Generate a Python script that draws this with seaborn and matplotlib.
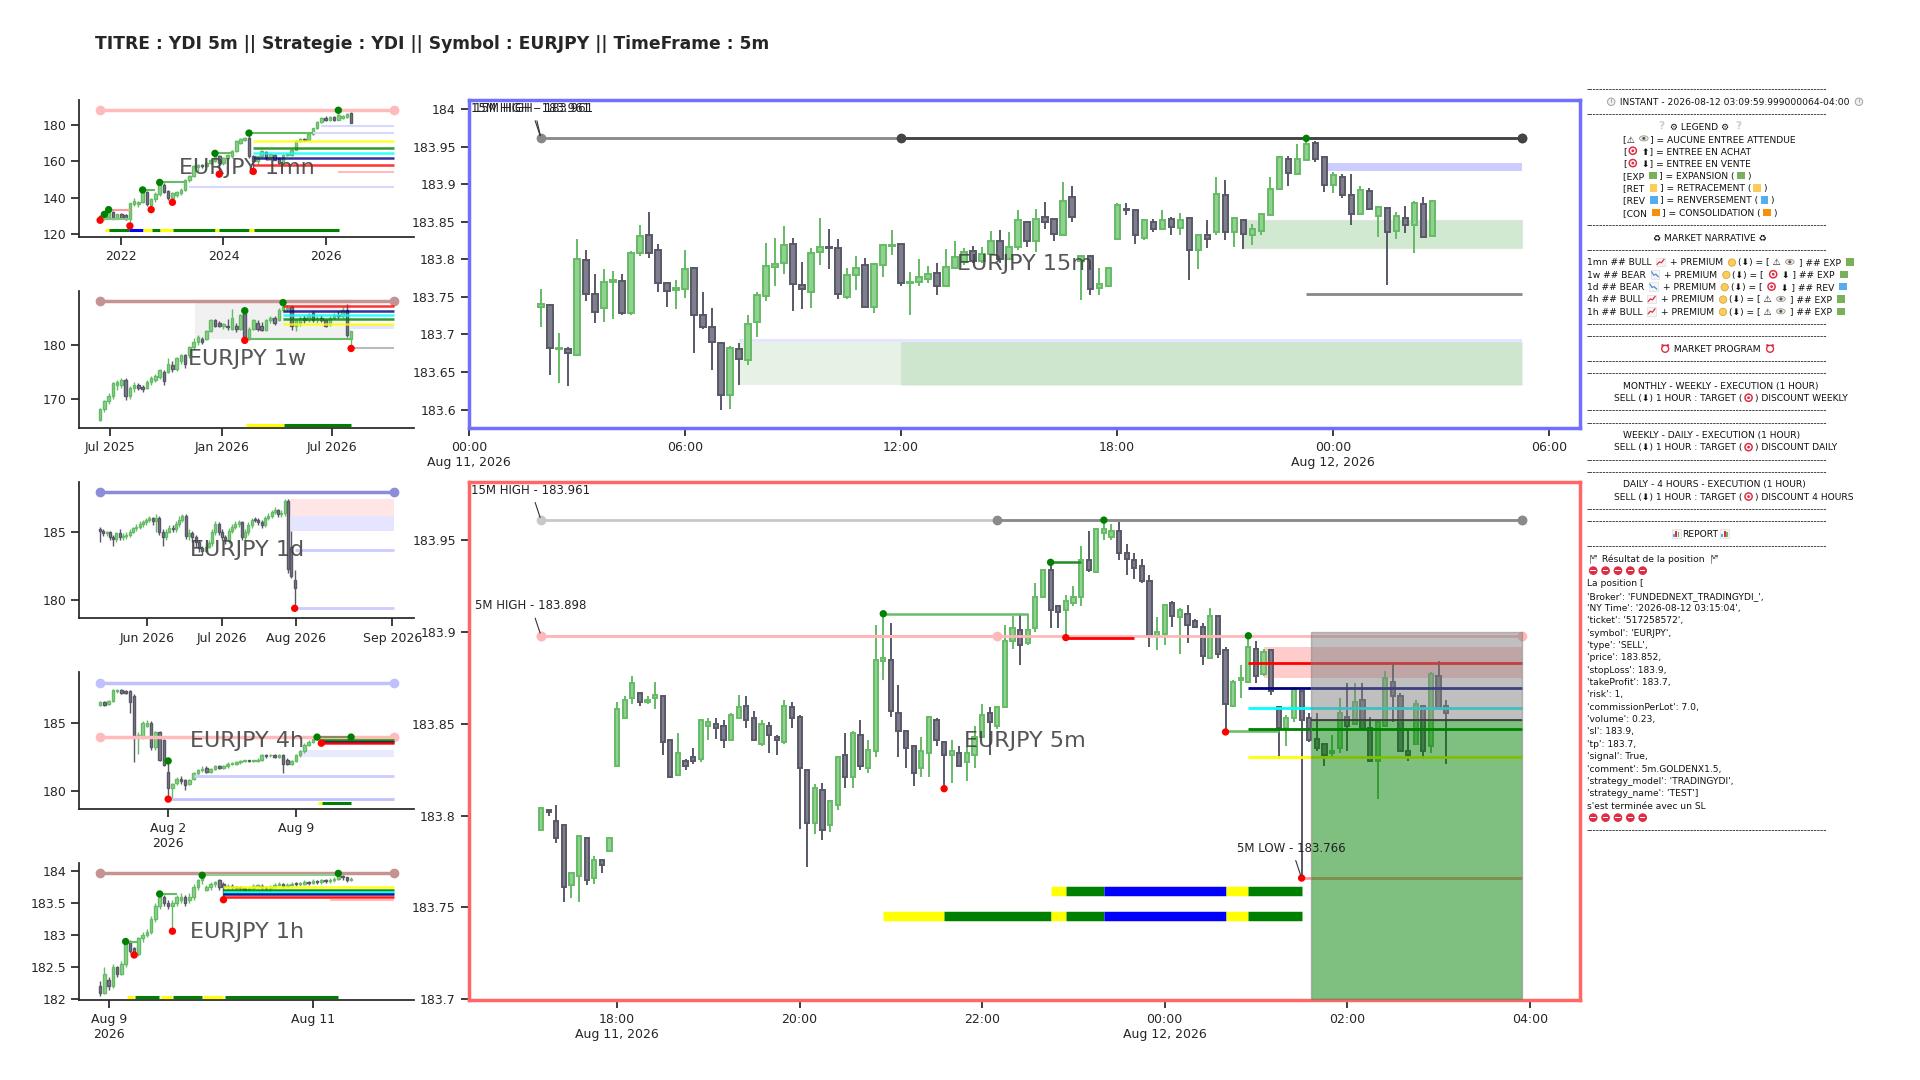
import numpy as np
import matplotlib
matplotlib.use("Agg")
import matplotlib.pyplot as plt
from matplotlib.ticker import FuncFormatter, MultipleLocator
from matplotlib.patches import Rectangle, Circle, Ellipse
import seaborn as sns

# ---------------- data ----------------
title = "TITRE : YDI 5m || Strategie : YDI || Symbol : EURJPY || TimeFrame : 5m"

# 15m candles, first one at 2026-08-11 02:00
m15_open = [183.736, 183.739, 183.680, 183.681, 183.673, 183.799, 183.754, 183.735, 183.770, 183.771,
            183.728, 183.809, 183.833, 183.812, 183.769, 183.759, 183.760, 183.788, 183.726, 183.710,
            183.688, 183.620, 183.680, 183.666, 183.716, 183.751, 183.790, 183.795, 183.820, 183.766,
            183.757, 183.810, 183.816, 183.815, 183.750, 183.779, 183.792, 183.736, 183.792, 183.818,
            183.820, 183.768, 183.770, 183.774, 183.782, 183.764, 183.789, 183.796, 183.811, 183.798,
            183.807, 183.825, 183.801, 183.817, 183.849, 183.824, 183.856, 183.853, 183.832, 183.883,
            183.798, 183.804, 183.762, 183.764, 183.827, 183.867, 183.865, 183.828, 183.849, 183.841,
            183.853, 183.842, 183.855, 183.813, 183.833, 183.837, 183.886, 183.837, 183.852, 183.833,
            183.838, 183.859, 183.893, 183.933, 183.914, 183.932, 183.955, 183.936, 183.899, 183.910,
            183.886, 183.860, 183.891, 183.858, 183.868, 183.838, 183.855, 183.846, 183.873, 183.831]
m15_high = [183.760, 183.739, 183.702, 183.683, 183.827, 183.813, 183.780, 183.787, 183.784, 183.781,
            183.811, 183.846, 183.863, 183.820, 183.770, 183.773, 183.813, 183.790, 183.757, 183.735,
            183.690, 183.684, 183.688, 183.726, 183.757, 183.822, 183.828, 183.844, 183.828, 183.797,
            183.815, 183.855, 183.841, 183.827, 183.789, 183.804, 183.802, 183.795, 183.821, 183.839,
            183.820, 183.783, 183.801, 183.791, 183.795, 183.814, 183.824, 183.815, 183.818, 183.817,
            183.838, 183.839, 183.836, 183.866, 183.851, 183.867, 183.876, 183.854, 183.903, 183.898,
            183.805, 183.806, 183.789, 183.790, 183.875, 183.875, 183.865, 183.853, 183.854, 183.866,
            183.856, 183.862, 183.855, 183.832, 183.852, 183.910, 183.905, 183.855, 183.853, 183.847,
            183.861, 183.910, 183.938, 183.937, 183.954, 183.961, 183.958, 183.938, 183.916, 183.914,
            183.913, 183.898, 183.895, 183.870, 183.868, 183.863, 183.871, 183.878, 183.883, 183.877]
m15_low = [183.710, 183.646, 183.635, 183.632, 183.672, 183.744, 183.715, 183.717, 183.721, 183.726,
           183.726, 183.804, 183.802, 183.757, 183.736, 183.734, 183.748, 183.675, 183.707, 183.653,
           183.600, 183.601, 183.633, 183.660, 183.696, 183.744, 183.765, 183.781, 183.731, 183.734,
           183.735, 183.793, 183.787, 183.747, 183.747, 183.759, 183.737, 183.728, 183.777, 183.806,
           183.765, 183.726, 183.765, 183.768, 183.753, 183.763, 183.788, 183.793, 183.795, 183.795,
           183.806, 183.795, 183.799, 183.812, 183.817, 183.810, 183.840, 183.825, 183.832, 183.850,
           183.746, 183.753, 183.753, 183.763, 183.827, 183.859, 183.821, 183.826, 183.837, 183.840,
           183.833, 183.833, 183.772, 183.787, 183.815, 183.832, 183.826, 183.816, 183.814, 183.819,
           183.833, 183.859, 183.892, 183.898, 183.912, 183.932, 183.930, 183.890, 183.888, 183.882,
           183.846, 183.860, 183.866, 183.830, 183.766, 183.827, 183.835, 183.809, 183.830, 183.830]
m15_close = [183.740, 183.682, 183.681, 183.675, 183.800, 183.754, 183.730, 183.770, 183.772, 183.729,
             183.809, 183.831, 183.809, 183.769, 183.758, 183.762, 183.787, 183.726, 183.710, 183.690,
             183.620, 183.682, 183.667, 183.714, 183.753, 183.791, 183.794, 183.819, 183.767, 183.760,
             183.809, 183.817, 183.815, 183.754, 183.779, 183.789, 183.737, 183.794, 183.819, 183.8195,
             183.768, 183.770, 183.777, 183.781, 183.765, 183.790, 183.803, 183.810, 183.798, 183.807,
             183.824, 183.801, 183.817, 183.852, 183.825, 183.853, 183.850, 183.834, 183.878, 183.856,
             183.804, 183.761, 183.767, 183.788, 183.872, 183.866, 183.833, 183.852, 183.840, 183.852,
             183.843, 183.852, 183.813, 183.832, 183.827, 183.887, 183.836, 183.855, 183.834, 183.841,
             183.860, 183.893, 183.936, 183.915, 183.934, 183.954, 183.934, 183.899, 183.912, 183.885,
             183.860, 183.892, 183.867, 183.869, 183.837, 183.857, 183.846, 183.875, 183.830, 183.877]

# 5m candles, first one at 2026-08-11 17:10
m5_open = [183.792, 183.803, 183.797, 183.795, 183.762, 183.767, 183.788, 183.766, 183.776, 183.781,
           183.827, 183.853, 183.864, 183.867, 183.862, 183.864, 183.865, 183.841, 183.822, 183.830,
           183.832, 183.831, 183.849, 183.850, 183.849, 183.841, 183.853, 183.860, 183.853, 183.839,
           183.849, 183.843, 183.840, 183.859, 183.854, 183.825, 183.796, 183.814, 183.795, 183.806,
           183.833, 183.821, 183.844, 183.826, 183.835, 183.884, 183.885, 183.856, 183.846, 183.838,
           183.826, 183.834, 183.852, 183.840, 183.833, 183.834, 183.829, 183.833, 183.843, 183.856,
           183.849, 183.859, 183.895, 183.901, 183.894, 183.902, 183.919, 183.934, 183.914, 183.912,
           183.916, 183.919, 183.939, 183.933, 183.954, 183.952, 183.955, 183.943, 183.939, 183.936,
           183.928, 183.898, 183.899, 183.916, 183.908, 183.910, 183.906, 183.903, 183.886, 183.909,
           183.890, 183.860, 183.874, 183.873, 183.891, 183.877, 183.890, 183.859, 183.848, 183.853,
           183.868, 183.853, 183.842, 183.839, 183.834, 183.837, 183.854, 183.850, 183.863, 183.848,
           183.830, 183.849, 183.873, 183.865, 183.835, 183.839, 183.860, 183.838, 183.876, 183.860]
m5_high = [183.804, 183.803, 183.806, 183.795, 183.769, 183.789, 183.788, 183.778, 183.776, 183.788,
           183.862, 183.865, 183.876, 183.867, 183.865, 183.873, 183.865, 183.841, 183.845, 183.831,
           183.837, 183.852, 183.853, 183.853, 183.852, 183.856, 183.866, 183.865, 183.857, 183.852,
           183.851, 183.844, 183.863, 183.862, 183.855, 183.825, 183.817, 183.818, 183.808, 183.832,
           183.845, 183.846, 183.852, 183.841, 183.904, 183.910, 183.905, 183.871, 183.846, 183.838,
           183.843, 183.854, 183.853, 183.840, 183.841, 183.838, 183.838, 183.849, 183.861, 183.859,
           183.859, 183.904, 183.909, 183.910, 183.910, 183.927, 183.934, 183.938, 183.914, 183.920,
           183.925, 183.947, 183.955, 183.956, 183.961, 183.959, 183.960, 183.948, 183.943, 183.940,
           183.931, 183.908, 183.915, 183.917, 183.913, 183.915, 183.907, 183.905, 183.913, 183.909,
           183.892, 183.874, 183.882, 183.898, 183.895, 183.891, 183.891, 183.859, 183.855, 183.870,
           183.868, 183.856, 183.856, 183.839, 183.844, 183.864, 183.872, 183.872, 183.872, 183.854,
           183.851, 183.879, 183.883, 183.867, 183.847, 183.863, 183.860, 183.878, 183.884, 183.863]
m5_low = [183.792, 183.800, 183.785, 183.753, 183.755, 183.753, 183.762, 183.763, 183.769, 183.781,
          183.827, 183.853, 183.861, 183.860, 183.861, 183.858, 183.833, 183.821, 183.822, 183.825,
          183.828, 183.829, 183.841, 183.842, 183.837, 183.841, 183.853, 183.848, 183.841, 183.838,
          183.834, 183.833, 183.839, 183.848, 183.793, 183.772, 183.790, 183.787, 183.791, 183.803,
          183.815, 183.815, 183.825, 183.823, 183.832, 183.874, 183.854, 183.832, 183.826, 183.816,
          183.821, 183.821, 183.838, 183.815, 183.818, 183.827, 183.819, 183.826, 183.843, 183.833,
          183.847, 183.859, 183.891, 183.882, 183.893, 183.900, 183.919, 183.902, 183.902, 183.897,
          183.914, 183.914, 183.933, 183.932, 183.950, 183.950, 183.939, 183.931, 183.929, 183.927,
          183.892, 183.890, 183.893, 183.903, 183.888, 183.894, 183.902, 183.882, 183.886, 183.886,
          183.846, 183.859, 183.864, 183.872, 183.872, 183.876, 183.866, 183.831, 183.838, 183.851,
          183.766, 183.840, 183.835, 183.827, 183.832, 183.834, 183.835, 183.850, 183.847, 183.830,
          183.809, 183.849, 183.851, 183.835, 183.830, 183.839, 183.831, 183.834, 183.858, 183.828]
m5_close = [183.804, 183.802, 183.788, 183.761, 183.769, 183.789, 183.765, 183.776, 183.773, 183.788,
            183.858, 183.863, 183.872, 183.862, 183.863, 183.866, 183.840, 183.821, 183.834, 183.827,
            183.830, 183.852, 183.851, 183.848, 183.841, 183.855, 183.859, 183.852, 183.841, 183.850,
            183.844, 183.841, 183.860, 183.853, 183.826, 183.796, 183.815, 183.792, 183.808, 183.832,
            183.821, 183.845, 183.827, 183.836, 183.885, 183.886, 183.857, 183.846, 183.837, 183.823,
            183.835, 183.854, 183.841, 183.833, 183.835, 183.827, 183.834, 183.843, 183.855, 183.851,
            183.859, 183.895, 183.902, 183.893, 183.901, 183.919, 183.934, 183.912, 183.911, 183.917,
            183.919, 183.939, 183.934, 183.956, 183.956, 183.955, 183.943, 183.940, 183.935, 183.928,
            183.898, 183.900, 183.915, 183.909, 183.912, 183.904, 183.903, 183.887, 183.909, 183.888,
            183.861, 183.873, 183.875, 183.892, 183.876, 183.889, 183.868, 183.848, 183.853, 183.869,
            183.852, 183.841, 183.837, 183.833, 183.835, 183.856, 183.849, 183.862, 183.847, 183.830,
            183.851, 183.875, 183.865, 183.835, 183.833, 183.861, 183.835, 183.877, 183.858, 183.856]

# monthly candles, Aug 2021 .. Jul 2026
mn_open = [130.0, 129.0, 129.5, 132.4, 128.7, 131.0, 130.5, 128.5, 136.5, 136.5,
           138.0, 143.5, 136.0, 139.5, 142.0, 147.0, 144.0, 140.0, 141.8, 142.7,
           144.5, 150.0, 152.0, 157.0, 158.2, 157.5, 159.0, 160.0, 162.7, 159.0,
           161.8, 162.7, 165.5, 170.0, 171.8, 172.7, 163.0, 160.0, 162.7, 165.0,
           161.8, 163.6, 161.8, 159.0, 163.6, 163.6, 166.4, 171.0, 172.4, 171.8,
           175.0, 178.2, 181.8, 184.0, 182.7, 184.4, 182.7, 183.6, 184.5, 186.4]
mn_high = [130.5, 131.0, 133.6, 132.8, 131.3, 131.5, 131.0, 137.5, 140.0, 138.5,
           144.4, 144.0, 139.8, 143.0, 148.5, 148.0, 144.5, 143.0, 144.0, 145.5,
           150.5, 152.5, 158.0, 158.5, 158.8, 159.5, 161.5, 164.4, 163.5, 162.5,
           164.0, 166.0, 171.5, 173.0, 173.5, 175.5, 163.5, 163.0, 166.0, 165.5,
           164.5, 164.0, 162.0, 164.0, 164.5, 167.0, 171.5, 173.0, 173.0, 175.5,
           178.5, 182.0, 184.5, 184.8, 185.0, 185.0, 188.0, 185.5, 186.5, 187.0]
mn_low = [128.0, 127.8, 129.0, 128.3, 128.3, 128.7, 128.0, 124.7, 135.5, 135.0,
          137.0, 135.5, 133.6, 138.0, 141.0, 142.5, 139.0, 137.6, 140.5, 141.5,
          144.0, 149.0, 151.5, 154.5, 156.5, 157.0, 158.5, 159.5, 153.0, 158.0,
          160.5, 162.0, 165.0, 169.5, 171.0, 162.0, 154.5, 158.5, 162.0, 161.0,
          161.0, 160.5, 158.5, 158.5, 163.0, 163.0, 166.0, 170.5, 171.0, 171.5,
          174.5, 177.5, 181.0, 182.0, 182.0, 182.0, 182.5, 183.0, 184.0, 180.8]
mn_close = [129.0, 130.5, 132.0, 128.7, 131.0, 129.0, 128.5, 137.0, 138.5, 138.0,
            143.5, 136.5, 139.5, 142.0, 148.0, 143.5, 140.0, 142.7, 143.3, 144.5,
            150.0, 152.0, 157.3, 158.0, 157.4, 159.0, 161.0, 164.0, 159.0, 161.8,
            163.3, 165.5, 171.0, 172.4, 173.0, 162.7, 160.0, 162.7, 165.5, 161.8,
            164.0, 161.0, 159.1, 163.6, 164.0, 166.4, 171.0, 172.4, 171.8, 175.0,
            178.2, 181.8, 184.0, 182.7, 184.5, 182.7, 185.5, 185.0, 185.8, 181.0]

# weekly candles, from mid June 2025
wk_open = [166.0, 168.0, 169.5, 170.5, 172.5, 172.5, 173.5, 170.5, 172.0, 172.5,
           172.2, 172.0, 173.0, 173.5, 174.0, 175.0, 175.0, 176.3, 175.5, 177.0,
           178.0, 178.0, 179.5, 180.5, 181.0, 181.0, 182.5, 184.5, 184.0, 183.5,
           183.5, 183.0, 183.5, 183.0, 185.8, 181.0, 183.0, 184.0, 183.5, 182.8,
           184.5, 185.0, 184.5, 186.5, 186.7, 187.0, 183.5, 184.0, 185.0, 184.5,
           185.8, 184.5, 185.0, 184.5, 183.8, 185.0, 185.5, 185.3, 186.5, 181.0]
wk_high = [168.3, 169.8, 171.0, 173.0, 173.5, 173.8, 173.8, 172.3, 173.0, 172.8,
           172.6, 173.4, 174.2, 174.6, 175.5, 175.3, 177.5, 177.0, 177.8, 178.3,
           178.3, 179.8, 181.3, 181.8, 181.5, 182.8, 184.7, 184.8, 184.3, 184.0,
           184.8, 186.7, 184.0, 185.7, 186.3, 183.3, 184.8, 184.5, 184.2, 184.8,
           185.3, 185.3, 186.8, 187.8, 187.3, 187.3, 184.8, 185.3, 185.5, 185.8,
           186.2, 185.3, 185.5, 184.8, 185.3, 185.8, 186.3, 187.0, 187.5, 182.6]
wk_low = [165.8, 167.5, 169.0, 170.0, 171.5, 172.0, 169.8, 170.0, 171.3, 171.5,
          171.3, 171.7, 172.5, 173.0, 173.7, 172.5, 174.7, 175.0, 175.2, 176.5,
          175.6, 177.5, 179.0, 180.0, 180.2, 180.8, 182.3, 183.3, 183.2, 183.0,
          182.8, 182.7, 182.3, 182.8, 180.8, 180.9, 182.8, 182.6, 182.5, 182.6,
          184.0, 183.6, 184.3, 186.0, 186.2, 182.7, 182.6, 183.5, 184.0, 184.2,
          184.2, 184.0, 184.2, 183.2, 183.5, 184.7, 185.0, 185.0, 181.5, 179.3]
wk_close = [168.0, 169.5, 170.5, 172.8, 173.0, 173.5, 170.5, 172.0, 172.5, 172.0,
            171.8, 173.0, 173.8, 174.2, 175.3, 173.3, 176.5, 175.5, 177.5, 178.0,
            176.5, 179.5, 180.5, 181.5, 180.5, 182.5, 184.5, 183.5, 183.5, 183.8,
            183.2, 185.0, 183.0, 185.5, 181.0, 183.0, 184.5, 183.0, 182.8, 184.5,
            185.0, 184.0, 186.5, 187.0, 186.8, 183.5, 184.5, 185.0, 184.5, 185.5,
            184.5, 185.0, 184.5, 183.5, 185.0, 185.5, 185.3, 186.5, 181.8, 182.5]

# daily candles, mid May .. early Aug 2026
d1_open = [185.2, 185.1, 184.9, 185.0, 184.6, 184.5, 184.9, 184.6, 184.7, 184.8,
           185.0, 185.3, 185.4, 185.6, 185.7, 185.9, 186.0, 185.8, 186.0, 185.0,
           184.6, 185.0, 185.3, 185.2, 185.6, 185.9, 186.2, 184.7, 184.9, 184.6,
           184.3, 183.8, 183.6, 183.9, 184.2, 185.0, 185.6, 185.0, 184.6, 184.4,
           185.1, 185.4, 185.6, 185.7, 184.6, 185.0, 185.5, 185.95, 185.9, 185.7,
           185.5, 186.0, 186.2, 186.5, 186.6, 186.3, 186.4, 187.3, 183.9, 181.5]
d1_high = [185.4, 185.2, 185.1, 185.1, 184.8, 185.0, 185.2, 184.9, 185.0, 185.2,
           185.4, 185.6, 185.8, 185.9, 186.0, 186.2, 186.1, 186.3, 186.2, 185.2,
           185.2, 185.5, 185.5, 185.8, 186.2, 186.3, 186.3, 185.2, 185.1, 184.8,
           184.4, 184.0, 184.1, 184.4, 185.2, 185.8, 185.7, 185.2, 184.8, 185.3,
           185.6, 185.8, 185.9, 185.8, 185.2, 185.7, 186.0, 186.1, 186.0, 185.9,
           186.2, 186.4, 186.6, 186.8, 186.7, 186.6, 187.4, 187.4, 185.1, 182.2]
d1_low = [184.3, 184.7, 184.7, 184.4, 184.0, 184.3, 184.4, 184.4, 184.5, 184.6,
          184.9, 185.1, 185.2, 185.4, 185.5, 185.7, 185.5, 185.0, 184.8, 184.0,
          184.4, 184.9, 185.0, 185.0, 185.4, 185.7, 184.5, 184.4, 184.3, 183.9,
          183.5, 183.3, 183.5, 183.8, 184.0, 184.8, 184.8, 184.4, 184.1, 184.2,
          184.9, 185.2, 185.4, 184.4, 184.4, 184.8, 185.3, 185.7, 185.5, 185.3,
          185.4, 185.9, 186.0, 186.3, 186.1, 186.1, 186.2, 182.0, 181.6, 179.4]
d1_close = [185.1, 184.9, 185.0, 184.6, 184.5, 184.9, 184.6, 184.7, 184.8, 185.0,
            185.3, 185.4, 185.6, 185.7, 185.9, 186.0, 185.8, 186.0, 185.0, 184.6,
            185.0, 185.3, 185.2, 185.6, 185.9, 186.2, 184.7, 184.9, 184.6, 184.3,
            183.8, 183.6, 183.9, 184.2, 185.0, 185.6, 185.0, 184.6, 184.4, 185.1,
            185.4, 185.6, 185.7, 184.6, 185.0, 185.5, 185.9, 185.85, 185.7, 185.5,
            186.0, 186.2, 186.5, 186.6, 186.3, 186.4, 187.3, 182.3, 181.8, 180.9]

# 4h candles, end of July .. Aug 2026
h4_open = [186.3, 186.5, 186.4, 186.6, 187.3, 187.4, 187.3, 187.3, 187.0, 183.9,
           184.0, 184.8, 185.0, 183.2, 184.3, 183.7, 181.4, 180.2, 180.6, 180.9,
           180.8, 180.5, 180.9, 181.3, 181.5, 181.7, 181.4, 181.6, 181.8, 181.7,
           181.8, 182.0, 182.0, 182.1, 182.2, 182.25, 182.2, 182.2, 182.3, 182.6,
           182.6, 182.6, 182.5, 182.6, 182.3, 182.0, 182.2, 182.6, 182.9, 183.4,
           183.6, 183.8, 183.9, 183.8, 183.85, 183.8, 183.85, 183.9, 183.85, 183.8]
h4_high = [186.6, 186.6, 186.7, 187.5, 187.5, 187.5, 187.4, 187.4, 187.1, 184.3,
           185.1, 185.2, 185.1, 184.4, 184.4, 183.8, 182.2, 180.6, 181.0, 181.1,
           180.9, 180.9, 181.4, 181.6, 181.8, 181.8, 181.7, 181.9, 181.9, 181.9,
           182.1, 182.1, 182.2, 182.3, 182.3, 182.3, 182.3, 182.4, 182.7, 182.7,
           182.7, 182.7, 182.7, 182.7, 182.4, 182.3, 182.7, 183.0, 183.5, 183.7,
           183.9, 183.95, 183.95, 183.9, 183.9, 183.9, 183.95, 183.95, 183.9, 183.9]
h4_low = [186.2, 186.2, 186.3, 186.5, 187.2, 187.1, 187.1, 185.7, 182.1, 182.7,
          183.8, 184.7, 183.0, 183.0, 182.2, 181.8, 179.4, 179.5, 180.4, 180.5,
          180.1, 180.4, 180.8, 181.2, 181.4, 181.3, 181.3, 181.5, 181.6, 181.6,
          181.7, 181.9, 181.9, 182.0, 182.1, 182.1, 182.1, 182.1, 182.2, 182.4,
          182.5, 182.4, 182.4, 181.3, 181.9, 181.9, 182.1, 182.5, 182.8, 183.3,
          183.5, 183.7, 183.5, 183.7, 183.7, 183.7, 183.8, 183.8, 183.7, 183.7]
h4_close = [186.5, 186.3, 186.6, 187.4, 187.4, 187.2, 187.2, 186.5, 183.9, 184.1,
            185.0, 185.0, 183.2, 184.3, 182.3, 181.9, 180.2, 180.5, 180.9, 180.7,
            180.4, 180.8, 181.3, 181.5, 181.6, 181.4, 181.6, 181.8, 181.7, 181.8,
            182.0, 182.05, 182.1, 182.2, 182.3, 182.2, 182.3, 182.3, 182.6, 182.55,
            182.65, 182.5, 182.6, 182.0, 182.0, 182.2, 182.6, 182.9, 183.4, 183.6,
            183.8, 183.9, 183.8, 183.85, 183.8, 183.85, 183.9, 183.85, 183.8, 183.85]

# 1h candles, Aug 9 .. Aug 11 2026
h1_open = [182.2, 182.1, 182.3, 182.2, 182.5, 182.4, 182.55, 182.9, 182.8, 182.7,
           182.95, 183.0, 183.05, 183.25, 183.45, 183.6, 183.5, 183.45, 183.5, 183.55,
           183.6, 183.55, 183.6, 183.75, 183.85, 183.7, 183.75, 183.8, 183.85, 183.8,
           183.75, 183.77, 183.75, 183.74, 183.73, 183.72, 183.74, 183.76, 183.77, 183.75,
           183.73, 183.75, 183.78, 183.79, 183.77, 183.78, 183.80, 183.79, 183.80, 183.82,
           183.81, 183.84, 183.83, 183.85, 183.84, 183.86, 183.88, 183.92, 183.90, 183.86]
h1_high = [182.28, 182.5, 182.35, 182.55, 182.52, 182.6, 182.9, 182.92, 182.82, 182.97,
           183.05, 183.1, 183.3, 183.5, 183.64, 183.62, 183.55, 183.55, 183.63, 183.65,
           183.62, 183.65, 183.8, 183.88, 183.93, 183.78, 183.83, 183.84, 183.87, 183.82,
           183.8, 183.79, 183.77, 183.76, 183.75, 183.77, 183.79, 183.8, 183.79, 183.77,
           183.78, 183.81, 183.82, 183.81, 183.81, 183.83, 183.82, 183.83, 183.85, 183.84,
           183.87, 183.86, 183.88, 183.87, 183.89, 183.91, 183.96, 183.93, 183.91, 183.9]
h1_low = [182.05, 182.08, 182.15, 182.18, 182.35, 182.38, 182.5, 182.72, 182.69, 182.68,
          182.9, 182.97, 183.02, 183.2, 183.4, 183.45, 183.4, 183.06, 183.45, 183.5,
          183.45, 183.5, 183.55, 183.7, 183.8, 183.68, 183.7, 183.75, 183.7, 183.55,
          183.72, 183.72, 183.71, 183.7, 183.69, 183.7, 183.72, 183.74, 183.72, 183.7,
          183.65, 183.73, 183.76, 183.74, 183.75, 183.76, 183.76, 183.77, 183.78, 183.78,
          183.79, 183.8, 183.8, 183.81, 183.81, 183.83, 183.86, 183.85, 183.83, 183.84]
h1_close = [182.1, 182.4, 182.2, 182.5, 182.4, 182.55, 182.9, 182.75, 182.7, 182.95,
            183.0, 183.05, 183.25, 183.45, 183.6, 183.5, 183.45, 183.5, 183.6, 183.6,
            183.5, 183.6, 183.75, 183.85, 183.9, 183.75, 183.8, 183.82, 183.75, 183.75,
            183.77, 183.75, 183.74, 183.73, 183.72, 183.74, 183.76, 183.77, 183.75, 183.73,
            183.75, 183.78, 183.79, 183.77, 183.78, 183.80, 183.79, 183.80, 183.82, 183.81,
            183.84, 183.83, 183.85, 183.84, 183.86, 183.88, 183.92, 183.90, 183.86, 183.87]

# tick positions (candle index) and labels
m15_tick_idx = [-8, 16, 40, 64, 88, 112]
m15_tick_lab = ["00:00\nAug 11, 2026", "06:00", "12:00", "18:00", "00:00\nAug 12, 2026", "06:00"]
m5_tick_idx = [10, 34, 58, 82, 106, 130]
m5_tick_lab = ["18:00\nAug 11, 2026", "20:00", "22:00", "00:00\nAug 12, 2026", "02:00", "04:00"]
mn_tick_idx = [5, 29, 53]
mn_tick_lab = ["2022", "2024", "2026"]
wk_tick_idx = [2.3, 28.6, 54.4]
wk_tick_lab = ["Jul 2025", "Jan 2026", "Jul 2026"]
d1_tick_idx = [14.3, 36.9, 59.3, 88.6]
d1_tick_lab = ["Jun 2026", "Jul 2026", "Aug 2026", "Sep 2026"]
h4_tick_idx = [16, 46]
h4_tick_lab = ["Aug 2\n2026", "Aug 9"]
h1_tick_idx = [2.1, 50]
h1_tick_lab = ["Aug 9\n2026", "Aug 11"]

# phase bars: (start idx, end idx, phase)
mn_phases = [(1.2, 2, "RET"), (2, 6.9, "EXP"), (6.9, 10, "REV"), (10, 12.1, "RET"), (12.1, 14, "EXP"),
             (14, 17.1, "RET"), (17.1, 26.9, "EXP"), (26.9, 28, "RET"), (28, 34.9, "EXP"),
             (34.9, 36.1, "RET"), (36.1, 56.1, "EXP")]
wk_phases = [(34.2, 43.2, "RET"), (43.2, 59, "EXP")]
h4_phases = [(51.3, 52.2, "RET"), (52.2, 59, "EXP")]
h1_phases = [(6.3, 8, "RET"), (8.3, 13.9, "EXP"), (14.2, 17, "RET"), (17.2, 23.9, "EXP"),
             (24.1, 28.9, "RET"), (29.3, 56, "EXP")]
m5_phases_a = [(67, 69, "RET"), (69, 74, "EXP"), (74, 90, "REV"), (90, 93, "RET"), (93, 100, "EXP")]
m5_phases_b = [(45, 53, "RET"), (53, 67, "EXP"), (67, 69, "RET"), (69, 74, "EXP"), (74, 90, "REV"),
               (90, 93, "RET"), (93, 100, "EXP")]

# trade
entry_price = 183.852
stop_loss = 183.9
take_profit = 183.7
high_15m = 183.961
high_5m = 183.898
low_5m = 183.766

report_lines = [
    "'Broker': 'FUNDEDNEXT_TRADINGYDI_',",
    "'NY Time': '2026-08-12 03:15:04',",
    "'ticket': '517258572',",
    "'symbol': 'EURJPY',",
    "'type': 'SELL',",
    "'price': 183.852,",
    "'stopLoss': 183.9,",
    "'takeProfit': 183.7,",
    "'risk': 1,",
    "'commissionPerLot': 7.0,",
    "'volume': 0.23,",
    "'sl': 183.9,",
    "'tp': 183.7,",
    "'signal': True,",
    "'comment': 5m.GOLDENX1.5,",
    "'strategy_model': 'TRADINGYDI',",
    "'strategy_name': 'TEST']",
]

# ---------------- style ----------------
sns.set_theme(style="ticks")
plt.rcParams["font.family"] = ["DejaVu Sans", "Noto Sans CJK SC"]
plt.rcParams["xtick.labelsize"] = 9
plt.rcParams["ytick.labelsize"] = 9

G_EDGE, G_FACE = "#66bb66", "#8fd18f"
K_EDGE, K_FACE = "#585866", "#7e7e8e"
PHASE_COL = {"EXP": "green", "RET": "yellow", "REV": "blue", "CON": "orange"}


def candles(ax, o, h, l, c, width=0.6, lw=1.2, tiny=0.0):
    o, h, l, c = map(np.asarray, (o, h, l, c))
    x = np.arange(len(o))
    up = c >= o
    edge = np.where(up, G_EDGE, K_EDGE)
    face = np.where(up, G_FACE, K_FACE)
    ax.vlines(x, l, h, colors=edge, lw=lw, zorder=2)
    body = np.maximum(np.abs(c - o), tiny)
    ax.bar(x, body, width, bottom=np.minimum(o, c), color=face, edgecolor=edge,
           linewidth=lw, zorder=3)


def hline(ax, y, x0, x1, color, lw=2.0, alpha=1.0, dots=False, z=4):
    ax.plot([x0, x1], [y, y], color=color, lw=lw, alpha=alpha, zorder=z,
            marker="o" if dots else None, ms=6, solid_capstyle="butt")


def zone(ax, x0, x1, y0, y1, color, alpha=0.2, edge=None, z=1):
    ax.fill_between([x0, x1], y0, y1, color=color, alpha=alpha, zorder=z,
                    edgecolor=edge if edge else "none", lw=1)


def dots(ax, xs, ys, color, s=28):
    sns.scatterplot(x=xs, y=ys, color=color, s=s, ax=ax, zorder=7,
                    edgecolor="none", legend=False)


def phases(ax, spans, y, lw):
    for x0, x1, p in spans:
        ax.hlines(y, x0, x1, colors=PHASE_COL[p], lw=lw, zorder=5)


def label(ax, text, x, y, dx=-10):
    ax.annotate(text, xy=(x, y), xytext=(dx, 30), textcoords="offset pixels",
                ha="center", va="center", fontsize=8.5, color="#222222", zorder=8,
                arrowprops=dict(arrowstyle="-", color="#333333", lw=0.8))


def tf_name(ax, text):
    ax.text(0.5, 0.5, text, transform=ax.transAxes, ha="center", va="center",
            fontsize=16, color="#444444", alpha=0.9, zorder=6)


fmt_g = FuncFormatter(lambda v, p: "%g" % round(v, 4))

fig = plt.figure(figsize=(19.2, 10.8), dpi=100)
gs = fig.add_gridspec(5, 2, left=0.0414, right=0.8229, top=0.9074, bottom=0.0741,
                      width_ratios=[335, 1111], wspace=0.0754, hspace=0.394)

# ---------------- small panels ----------------
small = [
    ("EURJPY 1mn", mn_open, mn_high, mn_low, mn_close, (118.7, 193.6), [120, 140, 160, 180], mn_tick_idx, mn_tick_lab),
    ("EURJPY 1w", wk_open, wk_high, wk_low, wk_close, (164.6, 190.0), [170, 180], wk_tick_idx, wk_tick_lab),
    ("EURJPY 1d", d1_open, d1_high, d1_low, d1_close, (178.66, 188.7), [180, 185], d1_tick_idx, d1_tick_lab),
    ("EURJPY 4h", h4_open, h4_high, h4_low, h4_close, (178.66, 188.7), [180, 185], h4_tick_idx, h4_tick_lab),
    ("EURJPY 1h", h1_open, h1_high, h1_low, h1_close, (181.99, 184.12), [182, 182.5, 183, 183.5, 184], h1_tick_idx, h1_tick_lab),
]
axs = []
for k, (name, o, h, l, c, ylim, yt, ti, tl) in enumerate(small):
    ax = fig.add_subplot(gs[k, 0])
    rng = ylim[1] - ylim[0]
    candles(ax, o, h, l, c, width=0.6, lw=1.0, tiny=rng * 0.006)
    ax.set_ylim(*ylim)
    ax.set_yticks(yt)
    ax.yaxis.set_major_formatter(fmt_g)
    ax.set_xticks(ti)
    ax.set_xticklabels(tl)
    if name == "EURJPY 1d":
        ax.set_xlim(-6.2, 95.3)
    else:
        ax.set_xlim(-4.85, 73.9)
    sns.despine(ax=ax)
    tf_name(ax, name)
    axs.append(ax)

a1, a2, a3, a4, a5 = axs

# 1mn structure
hline(a1, 188, 0, 69, "#ffbbbb", lw=2.5, dots=True)
hline(a1, 133.6, 2, 7, "#ff9999", lw=1.5)
hline(a1, 128.7, 1, 7, "#7fc97f", lw=1.5)
hline(a1, 144.4, 10, 13, "#66bb66", lw=1.5)
hline(a1, 148.5, 14, 20, "#66bb66", lw=1.5)
hline(a1, 164.4, 27, 31, "#66bb66", lw=1.5)
hline(a1, 175.5, 35, 50, "#66bb66", lw=1.5)
for y, col in zip([171.3, 167.3, 164.4, 161.8, 158.2], ["yellow", "green", "cyan", "navy", "red"]):
    hline(a1, y, 36, 69, col, lw=1.8, alpha=0.8)
hline(a1, 179.5, 52, 69, "#d8d8ff", lw=1.5)
hline(a1, 175.5, 50, 69, "#d8d8ff", lw=1.5)
hline(a1, 146.0, 21, 69, "#d8d8ff", lw=1.5)
hline(a1, 154.4, 56, 69, "#ffbbbb", lw=1.5)
dots(a1, [1, 2, 10, 14, 27, 35, 56], [131.0, 133.6, 144.4, 148.5, 164.4, 175.5, 188.0], "green")
dots(a1, [0, 7, 12, 17, 28, 36], [127.8, 124.7, 133.6, 137.6, 153.0, 154.5], "red")
phases(a1, mn_phases, 122.4, 2.2)

# 1w structure
zone(a2, 22.3, 59, 181.0, 187.9, "#bbbbbb", alpha=0.2)
hline(a2, 188.1, 0, 69, "#c49494", lw=2.5, dots=True)
hline(a2, 181.0, 34, 59, "#66bb66", lw=1.5)
for y, col in zip([187.1, 186.3, 185.5, 184.8, 183.8], ["red", "navy", "cyan", "green", "yellow"]):
    hline(a2, y, 43, 69, col, lw=1.8, alpha=0.8)
zone(a2, 59, 69, 182.9, 183.8, "#ccccff", alpha=0.5)
hline(a2, 179.4, 59, 69, "#bbbbbb", lw=1.5)
dots(a2, [34, 43], [186.3, 187.8], "green")
dots(a2, [34, 59], [180.8, 179.3], "red")
phases(a2, wk_phases, 165.1, 2.2)

# 1d structure
hline(a3, 187.93, 0, 89, "#8c8cd8", lw=2.5, dots=True)
zone(a3, 57, 89, 186.15, 187.4, "#ffcccc", alpha=0.5)
zone(a3, 58, 89, 185.1, 186.15, "#ccccff", alpha=0.5)
hline(a3, 183.66, 59, 89, "#ccccff", lw=2)
hline(a3, 179.4, 59, 89, "#ccccff", lw=2)
dots(a3, [59], [179.4], "red")

# 4h structure
hline(a4, 187.93, 0, 69, "#c0c0ff", lw=2.5, dots=True)
hline(a4, 183.95, 0, 69, "#ffbbbb", lw=2.5, dots=True)
hline(a4, 183.95, 51, 59, "#888866", lw=1.5)
for y, col in zip([183.75, 183.7, 183.62, 183.55], ["yellow", "green", "navy", "red"]):
    hline(a4, y, 52, 69, col, lw=1.8, alpha=0.9)
zone(a4, 47, 69, 182.5, 182.98, "#ccccff", alpha=0.4)
hline(a4, 181.07, 22, 69, "#ccccff", lw=2)
hline(a4, 179.4, 16, 69, "#c0c0ff", lw=2)
dots(a4, [16, 51, 59], [182.2, 183.95, 183.95], "green")
dots(a4, [16, 52], [179.4, 183.5], "red")
phases(a4, h4_phases, 179.12, 2.2)

# 1h structure
hline(a5, 183.96, 0, 69, "#c49494", lw=2.5, dots=True)
hline(a5, 182.9, 6, 9, "#66bb66", lw=1.5)
hline(a5, 183.64, 14, 18, "#66bb66", lw=1.5)
hline(a5, 183.93, 24, 56, "#8fd18f", lw=1.5)
for y, col in zip([183.75, 183.7, 183.67, 183.64, 183.6], ["yellow", "green", "cyan", "navy", "red"]):
    hline(a5, y, 29, 69, col, lw=1.8, alpha=0.9)
hline(a5, 183.55, 54, 69, "#ffbbbb", lw=1.5)
dots(a5, [6, 14, 24, 56], [182.9, 183.64, 183.93, 183.96], "green")
dots(a5, [8, 17, 29], [182.69, 183.06, 183.55], "red")
phases(a5, h1_phases, 182.03, 2.2)

# ---------------- 15m chart ----------------
b15 = fig.add_subplot(gs[0:2, 1])
candles(b15, m15_open, m15_high, m15_low, m15_close, width=0.6, lw=1.4, tiny=0.0015)
zone(b15, 22, 109, 183.633, 183.690, "green", alpha=0.1)
zone(b15, 40, 109, 183.633, 183.690, "green", alpha=0.1, edge="#bbbbbb")
zone(b15, 22, 109, 183.690, 183.694, "blue", alpha=0.1)
zone(b15, 78, 109, 183.815, 183.852, "green", alpha=0.18, edge="#bbbbbb")
zone(b15, 87, 109, 183.917, 183.928, "blue", alpha=0.2)
hline(b15, high_15m, 0, 109, "#888888", lw=2, dots=True)
hline(b15, high_15m, 40, 109, "#444444", lw=2, dots=True)
hline(b15, 183.754, 85, 109, "#888888", lw=2)
dots(b15, [85], [high_15m], "green")
label(b15, "15M HIGH - %.3f" % high_15m, 0, high_15m, dx=-10)
label(b15, "15M HIGH - %.3f" % high_15m, 0, high_15m, dx=-7)
tf_name(b15, "EURJPY 15m")
b15.set_xlim(-8, 115.4)
b15.set_ylim(183.576, 184.012)
b15.yaxis.set_major_locator(MultipleLocator(0.05))
b15.yaxis.set_major_formatter(fmt_g)
b15.set_xticks(m15_tick_idx)
b15.set_xticklabels(m15_tick_lab)

# ---------------- 5m chart ----------------
b5 = fig.add_subplot(gs[2:5, 1])
candles(b5, m5_open, m5_high, m5_low, m5_close, width=0.55, lw=1.4, tiny=0.0012)
hline(b5, high_15m, 0, 129, "#c8c8c8", lw=2, dots=True)
hline(b5, high_15m, 60, 129, "#8a8a8a", lw=2, dots=True)
hline(b5, high_5m, 0, 129, "#ffb8b8", lw=2, dots=True)
hline(b5, high_5m, 0, 60, "#ffb8b8", lw=2, dots=True)
hline(b5, 183.910, 45, 64, "#66bb66", lw=1.8)
hline(b5, 183.938, 67, 71, "#228b22", lw=1.8)
hline(b5, 183.897, 69, 78, "red", lw=2)
hline(b5, 183.846, 90, 97, "#66bb66", lw=1.8)
zone(b5, 95, 129, 183.8748, 183.8917, "red", alpha=0.2)
for y, col in zip([183.883, 183.8695, 183.8587, 183.847, 183.832], ["red", "navy", "cyan", "green", "yellow"]):
    hline(b5, y, 93, 129, col, lw=2)
# position box
zone(b5, 101.2, 129, entry_price, stop_loss, "gray", alpha=0.5, edge="gray", z=6)
zone(b5, 101.2, 129, take_profit, entry_price, "green", alpha=0.5, edge="gray", z=6)
hline(b5, entry_price, 101.2, 129, "#333333", lw=1.2, z=6)
hline(b5, low_5m, 100, 129, "#ff9999", lw=2)
dots(b5, [45, 67, 74, 93], [183.910, 183.938, high_15m, 183.898], "green")
dots(b5, [53, 69, 90, 100], [183.8147, 183.897, 183.8456, low_5m], "red")
phases(b5, m5_phases_a, 183.759, 6.8)
phases(b5, m5_phases_b, 183.7456, 6.8)
label(b5, "15M HIGH - %.3f" % high_15m, 0, high_15m)
label(b5, "5M HIGH - %.3f" % high_5m, 0, high_5m)
label(b5, "5M LOW - %.3f" % low_5m, 100, low_5m)
tf_name(b5, "EURJPY 5m")
b5.set_xlim(-9.47, 136.6)
b5.set_ylim(183.6996, 183.982)
b5.yaxis.set_major_locator(MultipleLocator(0.05))
b5.yaxis.set_major_formatter(fmt_g)
b5.set_xticks(m5_tick_idx)
b5.set_xticklabels(m5_tick_lab)

for ax, col in [(b15, "#7070ff"), (b5, "#ff6666")]:
    for sp in ax.spines.values():
        sp.set_visible(True)
        sp.set_color(col)
        sp.set_linewidth(2.5)

# ---------------- header and text panel ----------------
fig.text(95 / 1920, 1 - 44 / 1080, title, fontsize=12.3, fontweight="bold", va="center")

dash = "-" * 74
panel = [
    (1587, dash), (1605, "\u23f1 INSTANT - 2026-08-12 03:09:59.999000064-04:00 \u23f1"), (1587, dash),
    (1655, "\u2754 \u2699 LEGEND \u2699 \u2754"),
    (1623, "[\u26a0 \U0001f441] = AUCUNE ENTREE ATTENDUE"),
    (1623, "[\U0001f3af \u2b06] = ENTREE EN ACHAT"),
    (1623, "[\U0001f3af \u2b07] = ENTREE EN VENTE"),
    (1623, "[EXP \U0001f7e9] = EXPANSION (\U0001f7e9)"),
    (1623, "[RET \U0001f7e8] = RETRACEMENT (\U0001f7e8)"),
    (1623, "[REV \U0001f7e6] = RENVERSEMENT (\U0001f7e6)"),
    (1623, "[CON \U0001f7e7] = CONSOLIDATION (\U0001f7e7)"),
    (1587, dash), (1653, "\u267b MARKET NARRATIVE \u267b"), (1587, dash),
    (1587, "1mn ## BULL \U0001f4c8 + PREMIUM \U0001f4b0(\u2b07) = [ \u26a0 \U0001f441 ] ## EXP \U0001f7e9"),
    (1587, "1w ## BEAR \U0001f4c9 + PREMIUM \U0001f4b0(\u2b07) = [ \U0001f3af \u2b07 ] ## EXP \U0001f7e9"),
    (1587, "1d ## BEAR \U0001f4c9 + PREMIUM \U0001f4b0(\u2b07) = [ \U0001f3af \u2b07 ] ## REV \U0001f7e6"),
    (1587, "4h ## BULL \U0001f4c8 + PREMIUM \U0001f4b0(\u2b07) = [ \u26a0 \U0001f441 ] ## EXP \U0001f7e9"),
    (1587, "1h ## BULL \U0001f4c8 + PREMIUM \U0001f4b0(\u2b07) = [ \u26a0 \U0001f441 ] ## EXP \U0001f7e9"),
    (1587, dash), (1587, dash), (1659, "\u23f0 MARKET PROGRAM \u23f0"), (1587, dash), (1587, dash),
    (1623, "MONTHLY - WEEKLY - EXECUTION (1 HOUR)"),
    (1614, "SELL (\u2b07) 1 HOUR : TARGET (\U0001f3af) DISCOUNT WEEKLY"),
    (1587, dash), (1587, dash),
    (1623, "WEEKLY - DAILY - EXECUTION (1 HOUR)"),
    (1614, "SELL (\u2b07) 1 HOUR : TARGET (\U0001f3af) DISCOUNT DAILY"),
    (1587, dash), (1587, dash),
    (1623, "DAILY - 4 HOURS - EXECUTION (1 HOUR)"),
    (1614, "SELL (\u2b07) 1 HOUR : TARGET (\U0001f3af) DISCOUNT 4 HOURS"),
    (1587, dash), (1587, dash), (1670, "\U0001f4caREPORT\U0001f4ca"), (1587, dash),
    (1587, "\U0001f3c1 R\u00e9sultat de la position \U0001f3c1"),
    (1587, "\u26d4\u26d4\u26d4\u26d4\u26d4"),
    (1587, "La position ["),
] + [(1587, s) for s in report_lines] + [
    (1587, "s'est termin\u00e9e avec un SL"),
    (1587, "\u26d4\u26d4\u26d4\u26d4\u26d4"),
    (1587, dash),
]

# emoji that no installed font carries are drawn as small shapes
EMO = {"\u23f1": "stopwatch", "\u23f0": "alarm", "\u26d4": "noentry", "\u2754": "question",
       "\U0001f441": "eye", "\U0001f3af": "target", "\U0001f7e9": "#78b159", "\U0001f7e8": "#fdcb58",
       "\U0001f7e6": "#55acee", "\U0001f7e7": "#f4900c", "\U0001f4c8": "up", "\U0001f4c9": "down",
       "\U0001f4b0": "money", "\U0001f4ca": "bars", "\U0001f3c1": "flag"}

FS = 6.6
EM = FS * 100 / 72
SLOT = 1.35 * EM
ov = fig.add_axes([0, 0, 1, 1], zorder=20)
ov.set_xlim(0, 1920)
ov.set_ylim(1080, 0)
ov.axis("off")
renderer = fig.canvas.get_renderer()


def text_w(s):
    t1 = ov.text(0, 0, "|" + s + "|", fontsize=FS)
    t2 = ov.text(0, 0, "||", fontsize=FS)
    w = t1.get_window_extent(renderer).width - t2.get_window_extent(renderer).width
    t1.remove()
    t2.remove()
    return w


def emoji(kind, cx, cy, s):
    r = s / 2
    if kind.startswith("#"):
        ov.add_patch(Rectangle((cx - 0.85 * r, cy - 0.85 * r), 1.7 * r, 1.7 * r, fc=kind, ec="none"))
    elif kind == "noentry":
        ov.add_patch(Circle((cx, cy), r, fc="#dd2e44", ec="none"))
        ov.add_patch(Rectangle((cx - 0.62 * r, cy - 0.17 * r), 1.24 * r, 0.34 * r, fc="white", ec="none"))
    elif kind == "target":
        ov.add_patch(Circle((cx, cy), r, fc="#dd2e44", ec="none"))
        ov.add_patch(Circle((cx, cy), 0.65 * r, fc="white", ec="none"))
        ov.add_patch(Circle((cx, cy), 0.32 * r, fc="#dd2e44", ec="none"))
    elif kind == "eye":
        ov.add_patch(Ellipse((cx, cy), 2 * r, 1.2 * r, fc="#e8e8e8", ec="#888888", lw=0.5))
        ov.add_patch(Circle((cx, cy), 0.35 * r, fc="#6b4e2e", ec="none"))
    elif kind == "stopwatch":
        ov.add_patch(Circle((cx, cy + 0.1 * r), 0.85 * r, fc="#f2f2f2", ec="#aaaaaa", lw=0.8))
        ov.plot([cx, cx], [cy + 0.1 * r, cy - 0.5 * r], color="#999999", lw=0.6)
    elif kind == "alarm":
        ov.add_patch(Circle((cx, cy + 0.1 * r), 0.8 * r, fc="white", ec="#dd2e44", lw=1.0))
        ov.add_patch(Circle((cx - 0.6 * r, cy - 0.7 * r), 0.28 * r, fc="#dd2e44", ec="none"))
        ov.add_patch(Circle((cx + 0.6 * r, cy - 0.7 * r), 0.28 * r, fc="#dd2e44", ec="none"))
    elif kind in ("up", "down"):
        ov.add_patch(Rectangle((cx - r, cy - r), 2 * r, 2 * r, fc="#f6f6f6", ec="#dddddd", lw=0.5))
        ys = [cy + 0.6 * r, cy, cy + 0.2 * r, cy - 0.6 * r]
        if kind == "down":
            ys = ys[::-1]
        ov.plot([cx - 0.8 * r, cx - 0.3 * r, cx + 0.2 * r, cx + 0.8 * r], ys,
                color="#dd2e44" if kind == "up" else "#4a90d9", lw=0.9)
    elif kind == "money":
        ov.add_patch(Circle((cx, cy + 0.15 * r), 0.85 * r, fc="#fdcb58", ec="#c9a227", lw=0.5))
    elif kind == "bars":
        ov.add_patch(Rectangle((cx - r, cy - r), 2 * r, 2 * r, fc="#f6f6f6", ec="#dddddd", lw=0.5))
        for dx, hh, col in [(-0.55, 0.8, "#55acee"), (0.0, 1.4, "#dd2e44"), (0.55, 1.1, "#78b159")]:
            ov.add_patch(Rectangle((cx + dx * r - 0.2 * r, cy + 0.8 * r - hh * r), 0.4 * r, hh * r,
                                   fc=col, ec="none"))
    elif kind == "flag":
        for i in range(3):
            for j in range(2):
                col = "#777777" if (i + j) % 2 == 0 else "#dddddd"
                ov.add_patch(Rectangle((cx - 0.7 * r + i * 0.5 * r, cy - 0.8 * r + j * 0.5 * r),
                                       0.5 * r, 0.5 * r, fc=col, ec="none"))
        ov.plot([cx - 0.7 * r, cx - 0.7 * r], [cy - 0.8 * r, cy + r], color="#777777", lw=0.6)
    elif kind == "question":
        ov.text(cx, cy, "?", fontsize=FS + 1, fontweight="bold", color="#cccccc",
                ha="center", va="center")


def rich(x, y, s):
    parts, buf = [], ""
    for ch in s:
        if ch in EMO:
            if buf:
                parts.append(("t", buf))
                buf = ""
            parts.append(("e", EMO[ch]))
        else:
            buf += ch
    if buf:
        parts.append(("t", buf))
    for kind, val in parts:
        if kind == "t":
            ov.text(x, y + 0.36 * EM, val, fontsize=FS, ha="left", va="baseline", color="#111111")
            x += text_w(val)
        else:
            emoji(val, x + SLOT / 2, y, 0.95 * EM)
            x += SLOT


for k, (x0, s) in enumerate(panel):
    rich(x0, 89 + k * 12.35, s)

fig.savefig("out.png", dpi=100)
